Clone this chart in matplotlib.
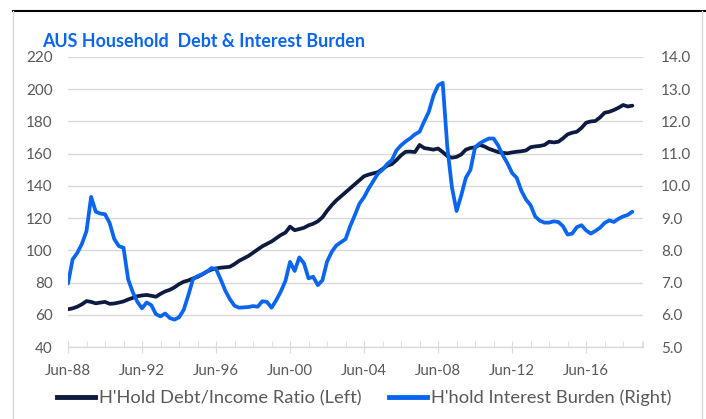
import matplotlib
matplotlib.use("Agg")
import matplotlib.pyplot as plt
from matplotlib.lines import Line2D
import numpy as np

# quarterly, Jun-88 .. Dec-18
debt_income = [
    63.4, 64.0, 65.0, 66.5, 68.5, 68.0, 67.1, 67.6, 68.0, 66.8,
    67.0, 67.6, 68.3, 69.5, 70.5, 71.5, 72.0, 72.3, 71.8, 71.2,
    73.0, 74.5, 75.5, 77.0, 79.0, 80.5, 81.3, 82.5, 83.5, 85.0,
    86.8, 88.0, 88.8, 89.2, 89.5, 89.8, 91.5, 93.5, 95.0, 96.5,
    98.5, 100.5, 102.5, 104.0, 105.5, 107.5, 109.5, 111.0, 114.7, 112.5,
    113.2, 114.0, 115.5, 116.5, 118.0, 120.5, 124.5, 128.0, 131.0, 133.5,
    136.0, 138.5, 141.0, 143.5, 146.0, 147.0, 147.8, 148.5, 150.5, 152.5,
    153.5, 156.0, 159.0, 161.2, 161.3, 161.0, 165.4, 163.5, 163.0, 162.5,
    163.2, 161.0, 158.5, 157.5, 158.0, 159.5, 162.5, 163.5, 164.0, 165.4,
    164.5, 163.0, 162.0, 161.0, 160.5, 160.2, 160.8, 161.2, 161.5, 162.0,
    164.0, 164.5, 164.8, 165.4, 167.4, 167.0, 167.4, 169.5, 172.0, 173.0,
    173.6, 176.0, 179.2, 180.0, 180.3, 182.5, 185.4, 186.0, 187.1, 188.5,
    190.2, 189.3, 189.8,
]
interest_burden = [
    6.97, 7.72, 7.92, 8.20, 8.60, 9.66, 9.20, 9.14, 9.12, 8.85,
    8.35, 8.13, 8.08, 7.10, 6.70, 6.40, 6.20, 6.38, 6.30, 6.02,
    5.95, 6.04, 5.90, 5.85, 5.92, 6.15, 6.60, 7.10, 7.20, 7.26,
    7.33, 7.45, 7.42, 7.10, 6.75, 6.48, 6.28, 6.22, 6.23, 6.24,
    6.27, 6.25, 6.42, 6.40, 6.22, 6.45, 6.72, 7.05, 7.64, 7.36,
    7.78, 7.60, 7.13, 7.18, 6.92, 7.07, 7.65, 7.95, 8.15, 8.25,
    8.35, 8.75, 9.09, 9.45, 9.65, 9.92, 10.15, 10.38, 10.50, 10.68,
    10.80, 11.10, 11.26, 11.38, 11.48, 11.60, 11.68, 12.00, 12.30, 12.80,
    13.12, 13.20, 11.20, 9.95, 9.22, 9.70, 10.25, 10.50, 11.20, 11.32,
    11.40, 11.47, 11.47, 11.25, 10.95, 10.70, 10.40, 10.25, 9.85, 9.58,
    9.40, 9.05, 8.92, 8.86, 8.86, 8.90, 8.88, 8.75, 8.49, 8.52,
    8.72, 8.78, 8.62, 8.52, 8.60, 8.70, 8.85, 8.93, 8.88, 8.98,
    9.05, 9.10, 9.20,
]
tick_labels = ["Jun-88", "Jun-92", "Jun-96", "Jun-00", "Jun-04", "Jun-08", "Jun-12", "Jun-16"]

navy = "#0d1b40"
blue = "#0a66f0"
grey_txt = "#595959"
grid_c = "#d9d9d9"
font = "Lato"

W, H = 706, 419
fig = plt.figure(figsize=(W / 100, H / 100), dpi=100)
ax = fig.add_axes([68 / W, 1 - 347 / H, (643 - 68) / W, (347 - 57) / H])
ax2 = ax.twinx()

x = np.arange(len(debt_income))
ax.plot(x, debt_income, color=navy, lw=2.7, solid_capstyle="round", zorder=3)
ax2.plot(x, interest_burden, color=blue, lw=2.7, solid_capstyle="round", zorder=3)

ax.set_xlim(0, 124.3)
ax.set_ylim(40, 220)
ax2.set_ylim(5, 14)
ax.set_yticks(np.arange(40, 221, 20))
ax2.set_yticks(np.arange(5, 14.1, 1))
ax2.set_yticklabels([f"{v:.1f}" for v in np.arange(5, 14.1, 1)])

ax.set_xticks(np.arange(0, 113, 16))
ax.set_xticklabels(tick_labels)
ax.set_xticks(list(np.arange(4, 125, 4)) + [124.3], minor=True)

for a in (ax, ax2):
    for s in a.spines.values():
        s.set_visible(False)
ax.spines["bottom"].set_visible(True)
ax.spines["bottom"].set_color(grid_c)
ax.spines["bottom"].set_linewidth(1)

ax.grid(axis="y", color=grid_c, lw=1)
ax.set_axisbelow(True)
ax.tick_params(axis="y", length=0, pad=11, labelsize=11, labelcolor=grey_txt)
ax2.tick_params(axis="y", length=0, pad=13, labelsize=11, labelcolor=grey_txt)
ax.tick_params(axis="x", which="major", direction="inout", length=8, color=grid_c,
               labelsize=10.8, labelcolor=grey_txt, pad=8)
ax.tick_params(axis="x", which="minor", direction="in", length=4, color=grid_c)
for lab in ax.get_xticklabels() + ax.get_yticklabels() + ax2.get_yticklabels():
    lab.set_fontfamily(font)

fig.text(42 / W, 1 - 47 / H, "AUS Household  Debt & Interest Burden", color=blue,
         fontsize=12.9, fontweight="bold", family=font, va="baseline", ha="left")

handles = [Line2D([], [], color=navy, lw=3.5),
           Line2D([], [], color=blue, lw=3.5)]
leg = fig.legend(handles, ["H'Hold Debt/Income Ratio (Left)", "H'hold Interest Burden (Right)"],
                 loc="center", bbox_to_anchor=(364 / W, 1 - 398 / H), ncol=2, frameon=False,
                 handlelength=2.1, handletextpad=0.2, columnspacing=1.5,
                 prop={"family": font, "size": 13.2})
for t in leg.get_texts():
    t.set_color(grey_txt)

# outer frame of the panel
fig.add_artist(Line2D([13 / W, 1], [1 - 11 / H, 1 - 11 / H], color="black", lw=1.5))
fig.add_artist(Line2D([13 / W, 13 / W], [0, 1 - 11 / H], color=grid_c, lw=1))
fig.add_artist(Line2D([702 / W, 702 / W], [0, 1 - 11 / H], color=grid_c, lw=1))

fig.savefig("out.png", dpi=100)
